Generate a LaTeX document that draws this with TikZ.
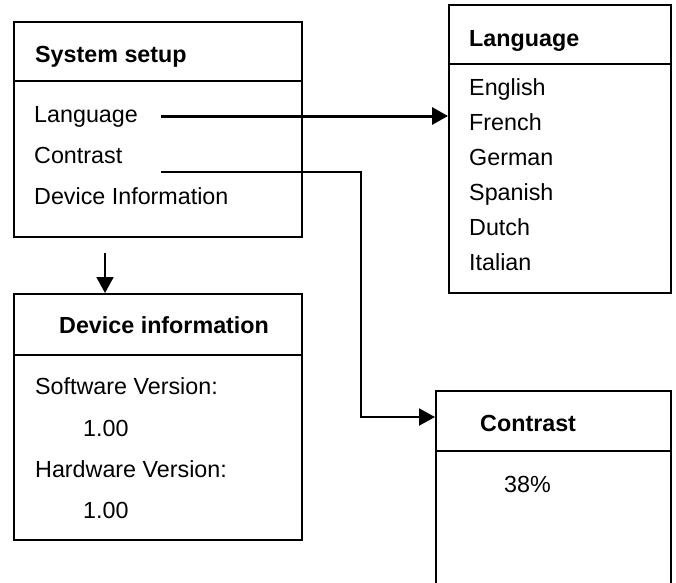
\documentclass[tikz,border=0pt]{standalone}
\usepackage{fontspec}
\setmainfont{Liberation Sans}
\usetikzlibrary{arrows.meta}

\tikzset{
  box/.style={draw, line width=2.2pt, inner sep=0pt, anchor=north west},
  item/.style={anchor=base west, inner sep=0pt, font=\fontsize{23.3}{28}\selectfont},
  head/.style={item, font=\fontsize{23.3}{28}\selectfont\bfseries},
  link/.style={line width=2pt, -{Triangle[length=16pt,width=17pt]}}
}

\begin{document}
\begin{tikzpicture}[x=1pt,y=-1pt]
    \useasboundingbox (0,0) rectangle (676,582);
    \clip (0,0) rectangle (676,582);

    % boxes
    \node[box, minimum width=288pt, minimum height=215pt] (setup) at (13,21) {};
    \node[box, minimum width=222pt, minimum height=288pt] (langbox) at (448,4) {};
    \node[box, minimum width=288pt, minimum height=246pt] (devbox) at (13,293) {};
    \node[box, minimum width=235pt, minimum height=230pt] (contrbox) at (435,390) {};
    \draw[line width=2.2pt] (13,81) -- (301,81);
    \draw[line width=2.2pt] (448,64) -- (670,64);
    \draw[line width=2.2pt] (13,355) -- (301,355);
    \draw[line width=2.2pt] (435,451) -- (670,451);

    % system setup
    \node[head] (setuptitle) at (35,62) {System setup};
    \node[item] (setuplang) at (34,122) {Language};
    \node[item] (setupcontr) at (34,163) {Contrast};
    \node[item] (setupdev) at (34,204) {Device Information};

    % language
    \node[head] (langtitle) at (469,46) {Language};
    \node[item] (english) at (469,95) {English};
    \node[item] (french) at (469,130) {French};
    \node[item] (german) at (469,165) {German};
    \node[item] (spanish) at (469,200) {Spanish};
    \node[item] (dutch) at (469,235) {Dutch};
    \node[item] (italian) at (469,270) {Italian};

    % device information
    \node[head] (devtitle) at (59,333) {Device information};
    \node[item] (swlabel) at (35,394) {Software Version:};
    \node[item] (swvalue) at (83,436) {1.00};
    \node[item] (hwlabel) at (35,477) {Hardware Version:};
    \node[item] (hwvalue) at (83,518) {1.00};

    % contrast
    \node[head] (contrtitle) at (480,431) {Contrast};
    \node[item] (contrvalue) at (504,492) {38\%};

    % connectors
    \coordinate (langstart) at (161,116);
    \coordinate (contrstart) at (161,172);
    \coordinate (contrbend) at (361,417);
    \coordinate (devstart) at (105,253);
    \draw[link, line width=3pt] (langstart) -- (langbox.west |- langstart);
    \draw[link] (contrstart) -| (contrbend) -- (contrbox.west |- contrbend);
    \draw[link] (devstart) -- (devstart |- devbox.north);
\end{tikzpicture}
\end{document}
